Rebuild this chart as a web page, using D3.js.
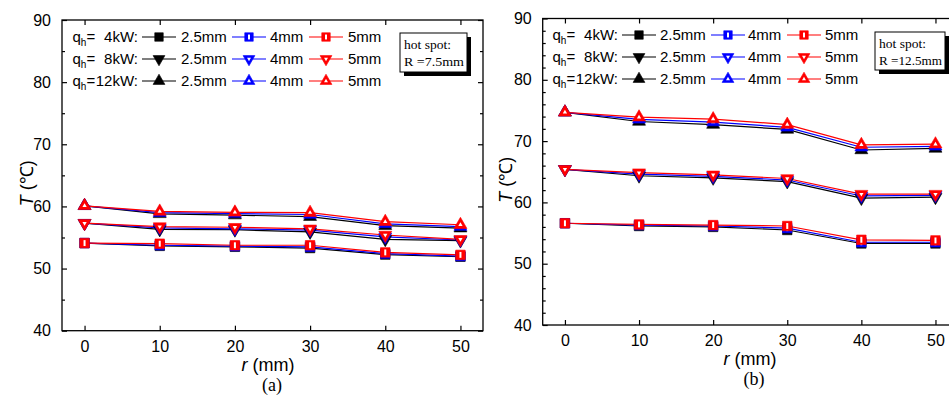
<!DOCTYPE html>
<html><head><meta charset="utf-8">
<script src="https://cdn.jsdelivr.net/npm/d3@7"></script>
<style>
html,body{margin:0;padding:0;background:#fff;}
svg{display:block;}
text{font-family:"Liberation Sans",Arial,sans-serif;fill:#000;}
.serif{font-family:"Liberation Serif","Times New Roman",serif;}
</style></head>
<body>
<svg id="chart" width="949" height="395"></svg>
<script>
// ---------- data ----------
const radius = [0, 10, 20, 30, 40, 50];
const xTicks = [0, 10, 20, 30, 40, 50];
const yTicks = [40, 50, 60, 70, 80, 90];
const powers = ["4kW", "8kW", "12kW"];
const sizes = ["2.5mm", "4mm", "5mm"];
const hotSpotA = "R =7.5mm";
const hotSpotB = "R =12.5mm";

// panel (a): hot spot R = 7.5 mm
const a_4kW_25  = [54.1, 53.65, 53.5, 53.3, 52.25, 51.9];
const a_4kW_4   = [54.1, 53.75, 53.6, 53.5, 52.4, 52.0];
const a_4kW_5   = [54.1, 54.0, 53.75, 53.75, 52.6, 52.2];
const a_8kW_25  = [57.3, 56.3, 56.25, 55.9, 54.7, 54.5];
const a_8kW_4   = [57.3, 56.55, 56.4, 56.2, 55.1, 54.6];
const a_8kW_5   = [57.3, 56.75, 56.65, 56.4, 55.4, 54.7];
const a_12kW_25 = [60.1, 58.8, 58.6, 58.35, 56.9, 56.5];
const a_12kW_4  = [60.1, 59.0, 58.85, 58.7, 57.2, 56.75];
const a_12kW_5  = [60.1, 59.2, 59.05, 59.0, 57.55, 57.05];

// panel (b): hot spot R = 12.5 mm
const b_4kW_25  = [56.6, 56.15, 56.0, 55.5, 53.3, 53.3];
const b_4kW_4   = [56.6, 56.3, 56.15, 55.8, 53.5, 53.5];
const b_4kW_5   = [56.6, 56.4, 56.3, 56.15, 53.9, 53.8];
const b_8kW_25  = [65.4, 64.35, 64.0, 63.4, 60.7, 60.85];
const b_8kW_4   = [65.4, 64.6, 64.25, 63.65, 61.05, 61.15];
const b_8kW_5   = [65.4, 64.85, 64.5, 63.9, 61.35, 61.35];
const b_12kW_25 = [74.7, 73.2, 72.7, 71.9, 68.55, 68.8];
const b_12kW_4  = [74.7, 73.55, 73.1, 72.25, 69.0, 69.15];
const b_12kW_5  = [74.7, 73.9, 73.6, 72.7, 69.4, 69.5];

// ---------- style ----------
const colors = ["#000000", "#0000ff", "#ff0000"];
const shapes = ["square", "down", "up"];

const svg = d3.select("#chart");

function marker(g, shape, ci, cx, cy, s) {
  const col = colors[ci];
  const grp = g.append("g").attr("transform", `translate(${cx},${cy})`);
  let sym;
  if (shape === "square") {
    sym = d3.symbol(d3.symbolSquare, s * s)();
  } else {
    sym = d3.symbol(d3.symbolTriangle, s * s * 0.55)();
  }
  const rot = shape === "down" ? 180 : 0;
  grp.append("path").attr("d", sym).attr("transform", `rotate(${rot})`)
    .attr("fill", col).attr("stroke", col).attr("stroke-width", 0.6);
  if (ci > 0) {
    if (shape === "square") {
      grp.append("rect").attr("x", -1).attr("y", -s / 2 + 1.8)
        .attr("width", 2).attr("height", s - 3.6).attr("fill", "#fff");
    } else {
      grp.append("path").attr("d", d3.symbol(d3.symbolTriangle, s * s * 0.06)())
        .attr("transform", `rotate(${rot})`).attr("fill", "#fff");
    }
  }
}

function panel(opt) {
  const x = d3.scaleLinear().domain([-3, 53]).range([opt.x0, opt.x1]);
  const y = d3.scaleLinear().domain([40, 90]).range([opt.y0, opt.y1]);
  const g = svg.append("g");

  g.append("rect").attr("x", opt.x0).attr("y", opt.y1)
    .attr("width", opt.x1 - opt.x0).attr("height", opt.y0 - opt.y1)
    .attr("fill", "none").attr("stroke", "#000").attr("stroke-width", 1.3);

  const minorY = d3.range(40, 90.001, opt.minorStep).filter(v => v % 10 !== 0);
  const xb = g.append("g").attr("transform", `translate(0,${opt.y0})`)
    .call(d3.axisBottom(x).tickValues(xTicks).tickSize(-5).tickPadding(10).tickFormat(d3.format("d")));
  const xt = g.append("g").attr("transform", `translate(0,${opt.y1})`)
    .call(d3.axisTop(x).tickValues(xTicks).tickSize(-5).tickFormat(""));
  const yl = g.append("g").attr("transform", `translate(${opt.x0},0)`)
    .call(d3.axisLeft(y).tickValues(yTicks).tickSize(-5).tickPadding(11).tickFormat(d3.format("d")));
  const ylm = g.append("g").attr("transform", `translate(${opt.x0},0)`)
    .call(d3.axisLeft(y).tickValues(minorY).tickSize(-3).tickFormat(""));
  const yr = g.append("g").attr("transform", `translate(${opt.x1},0)`)
    .call(d3.axisRight(y).tickValues(yTicks).tickSize(-5).tickFormat(""));
  const yrm = g.append("g").attr("transform", `translate(${opt.x1},0)`)
    .call(d3.axisRight(y).tickValues(minorY).tickSize(-3).tickFormat(""));
  [xb, xt, yl, ylm, yr, yrm].forEach(a => {
    a.select(".domain").remove();
    a.selectAll("line").attr("stroke", "#000").attr("stroke-width", 1.2);
    a.selectAll("text").attr("font-size", 16).attr("font-family", "Liberation Sans, Arial, sans-serif").attr("fill", "#000");
  });

  const groups = opt.series;
  const line = d3.line().x((d, i) => x(radius[i])).y(d => y(d));
  groups.forEach((grpSeries) => {
    grpSeries.forEach((vals, ci) => {
      g.append("path").datum(vals).attr("d", line)
        .attr("fill", "none").attr("stroke", colors[ci]).attr("stroke-width", 1.2);
    });
  });
  groups.forEach((grpSeries, pi) => {
    grpSeries.forEach((vals, ci) => {
      vals.forEach((v, i) => marker(g, shapes[pi], ci, x(radius[i]), y(v), pi === 0 ? 9.5 : 11.5));
    });
  });

  const L = opt.legend;
  powers.forEach((p, pi) => {
    const ty = L.y + pi * L.dy;
    const t = g.append("text").attr("x", L.qx).attr("y", ty).attr("font-size", 15);
    t.append("tspan").text("q");
    t.append("tspan").attr("font-size", 10).attr("dy", 4).text("h");
    t.append("tspan").attr("dy", -4).text("=");
    g.append("text").attr("x", L.kwEnd).attr("y", ty).attr("font-size", 15)
      .attr("text-anchor", "end").text(p + ":");
    sizes.forEach((s, ci) => {
      const lx = L.lines[ci];
      g.append("line").attr("x1", lx).attr("x2", lx + L.len).attr("y1", ty - 5).attr("y2", ty - 5)
        .attr("stroke", colors[ci]).attr("stroke-width", 1.2);
      marker(g, shapes[pi], ci, lx + L.len / 2, ty - 5, pi === 0 ? 8.5 : 10.5);
      g.append("text").attr("x", L.texts[ci]).attr("y", ty).attr("font-size", 15).text(s);
    });
  });

  const B = opt.box;
  g.append("rect").attr("x", B.x + 4).attr("y", B.y + 4).attr("width", B.w).attr("height", B.h).attr("fill", "#000");
  g.append("rect").attr("x", B.x).attr("y", B.y).attr("width", B.w).attr("height", B.h)
    .attr("fill", "#fff").attr("stroke", "#000").attr("stroke-width", 1);
  g.append("text").attr("class", "serif").attr("x", B.x + 4).attr("y", B.y + 16).attr("font-size", 13.5).text("hot spot:");
  g.append("text").attr("class", "serif").attr("x", B.x + 4).attr("y", B.y + 33).attr("font-size", 13.5)
    .attr("textLength", B.w - 7).attr("lengthAdjust", "spacingAndGlyphs").text(opt.hot);

  const ty = g.append("text").attr("transform", `translate(${opt.yTitleX},${(opt.y0 + opt.y1) / 2 + 8}) rotate(-90)`)
    .attr("text-anchor", "middle").attr("font-size", 18);
  ty.append("tspan").attr("font-style", "italic").text("T");
  ty.append("tspan").text(" (℃)");
  const tx = g.append("text").attr("x", opt.xTitleCx).attr("y", opt.y0 + opt.xTitleDy)
    .attr("text-anchor", "middle").attr("font-size", 18);
  tx.append("tspan").attr("font-style", "italic").text("r");
  tx.append("tspan").text(" (mm)");
  g.append("text").attr("class", "serif").attr("x", opt.xTitleCx + 4).attr("y", opt.y0 + opt.xTitleDy + 20)
    .attr("text-anchor", "middle").attr("font-size", 18).text(opt.tag);
}

panel({
  x0: 62, x1: 483, y0: 330.7, y1: 20, minorStep: 5,
  series: [[a_4kW_25, a_4kW_4, a_4kW_5], [a_8kW_25, a_8kW_4, a_8kW_5], [a_12kW_25, a_12kW_4, a_12kW_5]],
  legend: { qx: 72.5, kwEnd: 138, y: 42, dy: 22, len: 34, lines: [142, 232, 309], texts: [181, 270, 348] },
  box: { x: 400, y: 33, w: 67, h: 39 }, hot: hotSpotA,
  yTitleX: 33, xTitleCx: 268, xTitleDy: 40, tag: "(a)"
});
panel({
  x0: 542.7, x1: 957.7, y0: 325, y1: 18.5, minorStep: 2,
  series: [[b_4kW_25, b_4kW_4, b_4kW_5], [b_8kW_25, b_8kW_4, b_8kW_5], [b_12kW_25, b_12kW_4, b_12kW_5]],
  legend: { qx: 552.5, kwEnd: 618, y: 40, dy: 22, len: 34, lines: [622, 711, 787], texts: [660, 748, 825] },
  box: { x: 875, y: 32, w: 70, h: 38 }, hot: hotSpotB,
  yTitleX: 512, xTitleCx: 750, xTitleDy: 40, tag: "(b)"
});
</script>
</body></html>
